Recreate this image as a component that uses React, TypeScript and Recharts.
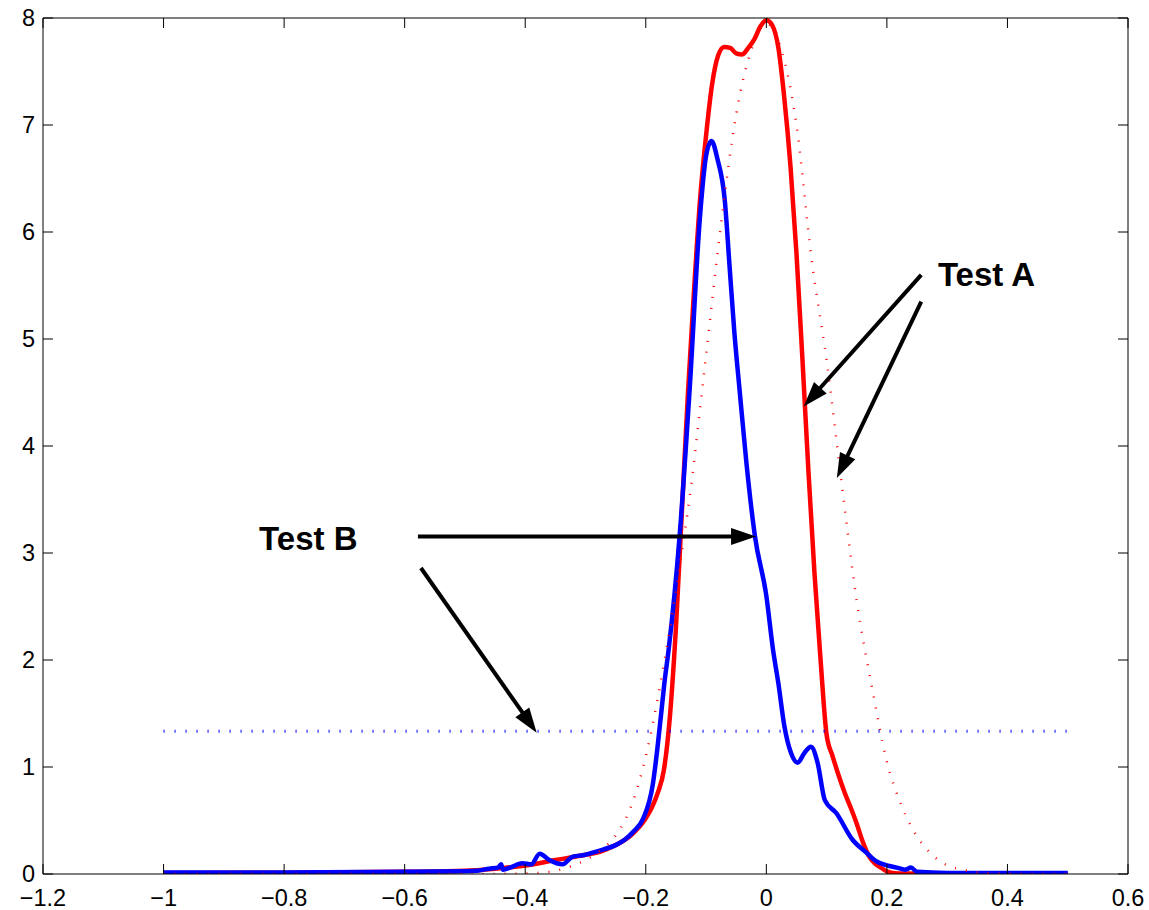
import React from "react";
import { LineChart, Line, XAxis, YAxis, ReferenceLine, ReferenceDot } from "recharts";

// axis ticks
const xTicks = [-1.2, -1, -0.8, -0.6, -0.4, -0.2, 0, 0.2, 0.4, 0.6];
const yTicks = [0, 1, 2, 3, 4, 5, 6, 7, 8];

// Test A, solid red
const redSolidX = [-1, -0.8, -0.6, -0.5, -0.45, -0.4, -0.35, -0.3, -0.275, -0.25, -0.225, -0.2, -0.19, -0.18, -0.17, -0.16, -0.15, -0.14, -0.13, -0.12, -0.11, -0.1, -0.09, -0.08, -0.07, -0.06, -0.05, -0.04, -0.03, -0.02, -0.01, 0, 0.01, 0.02, 0.03, 0.04, 0.05, 0.06, 0.07, 0.08, 0.09, 0.1, 0.11, 0.12, 0.13, 0.14, 0.15, 0.16, 0.17, 0.18, 0.19, 0.2, 0.21, 0.23, 0.3, 0.5];
const redSolidY = [0.01, 0.012, 0.02, 0.03, 0.05, 0.08, 0.13, 0.18, 0.21, 0.27, 0.36, 0.52, 0.62, 0.76, 0.97, 1.47, 2.3, 3.4, 4.5, 5.45, 6.3, 6.9, 7.38, 7.65, 7.73, 7.72, 7.67, 7.66, 7.72, 7.8, 7.92, 7.98, 7.93, 7.72, 7.24, 6.62, 5.8, 4.8, 3.75, 2.8, 2.0, 1.3, 1.1, 0.92, 0.76, 0.62, 0.47, 0.3, 0.17, 0.1, 0.06, 0.025, 0.01, 0.004, 0, 0];

// Test A, dotted red
const redDotX = [-1, -0.6, -0.5, -0.45, -0.4, -0.375, -0.35, -0.325, -0.3, -0.275, -0.25, -0.225, -0.2, -0.175, -0.15, -0.125, -0.1, -0.075, -0.05, -0.025, 0, 0.025, 0.05, 0.075, 0.1, 0.125, 0.15, 0.175, 0.2, 0.225, 0.25, 0.275, 0.3, 0.325, 0.35, 0.4, 0.45, 0.5];
const redDotY = [0, 0, 0, 0.001, 0.005, 0.012, 0.03, 0.07, 0.13, 0.22, 0.36, 0.62, 1.1, 1.8, 2.65, 3.62, 4.85, 6.08, 7.1, 7.7, 7.95, 7.7, 7.0, 5.75, 4.8, 3.65, 2.55, 1.75, 1.05, 0.63, 0.35, 0.18, 0.08, 0.04, 0.015, 0.002, 0, 0];

// Test B, solid blue
const blueSolidX = [-1, -0.8, -0.6, -0.5, -0.48, -0.46, -0.445, -0.44, -0.437, -0.425, -0.405, -0.39, -0.376, -0.36, -0.338, -0.322, -0.3, -0.288, -0.27, -0.25, -0.235, -0.22, -0.205, -0.188, -0.181, -0.175, -0.169, -0.162, -0.144, -0.127, -0.11, -0.1, -0.091, -0.081, -0.069, -0.061, -0.053, -0.044, -0.033, -0.019, 0, 0.011, 0.02, 0.03, 0.041, 0.052, 0.063, 0.074, 0.085, 0.097, 0.116, 0.143, 0.166, 0.182, 0.2, 0.216, 0.23, 0.24, 0.25, 0.3, 0.5];
const blueSolidY = [0.015, 0.015, 0.02, 0.025, 0.03, 0.05, 0.06, 0.09, 0.04, 0.06, 0.1, 0.09, 0.19, 0.13, 0.09, 0.16, 0.18, 0.2, 0.23, 0.27, 0.32, 0.4, 0.51, 0.85, 1.16, 1.47, 1.79, 2.1, 3.15, 4.55, 6.15, 6.71, 6.85, 6.68, 6.3, 5.68, 5.06, 4.5, 3.84, 3.16, 2.6, 2.1, 1.78, 1.38, 1.13, 1.04, 1.13, 1.19, 1.04, 0.69, 0.57, 0.32, 0.2, 0.12, 0.08, 0.06, 0.04, 0.06, 0.02, 0.01, 0.01];

// Test B, dotted blue (flat)
const blueDotX = [-1, 0.5];
const blueDotY = [1.333, 1.333];

// annotation arrows, data units
const arrows = [
  { x1: 0.257, y1: 5.6, x2: 0.062, y2: 4.37 },
  { x1: 0.257, y1: 5.35, x2: 0.117, y2: 3.7 },
  { x1: -0.578, y1: 3.155, x2: -0.017, y2: 3.155 },
  { x1: -0.573, y1: 2.86, x2: -0.381, y2: 1.32 },
];
const labels = [
  { text: "Test A", x: 0.2846, y: 5.6 },
  { text: "Test B", x: -0.8415, y: 3.132 },
];

const zip = (xs: number[], ys: number[]) => xs.map((x, i) => ({ x, y: ys[i] }));

const FONT = "'Liberation Sans', Arial, Helvetica, sans-serif";
const fmt = (v: number) => (v < 0 ? "\u2212" + String(-v) : String(v));

function BottomTick({ x, y, payload }: any) {
  return (
    <g>
      <line x1={x} y1={y} x2={x} y2={y - 10} stroke="#000" strokeWidth={1} />
      <text x={x} y={y + 24} textAnchor="middle" dominantBaseline="central" fontSize={23.5} fontFamily={FONT} fill="#000">
        {fmt(payload.value)}
      </text>
    </g>
  );
}

function TopTick({ x, y }: any) {
  return <line x1={x} y1={y} x2={x} y2={y + 10} stroke="#000" strokeWidth={1} />;
}

function LeftTick({ x, y, payload }: any) {
  return (
    <g>
      <line x1={x} y1={y} x2={x + 10} y2={y} stroke="#000" strokeWidth={1} />
      <text x={x - 8} y={y} textAnchor="end" dominantBaseline="central" fontSize={23.5} fontFamily={FONT} fill="#000">
        {fmt(payload.value)}
      </text>
    </g>
  );
}

function RightTick({ x, y }: any) {
  return <line x1={x} y1={y} x2={x - 10} y2={y} stroke="#000" strokeWidth={1} />;
}

function Arrow(props: any) {
  const { x1, y1, x2, y2 } = props;
  const dx = x2 - x1;
  const dy = y2 - y1;
  const len = Math.hypot(dx, dy) || 1;
  const ux = dx / len;
  const uy = dy / len;
  const hl = 25;
  const hw = 8.5;
  const bx = x2 - ux * hl;
  const by = y2 - uy * hl;
  const px = -uy;
  const py = ux;
  return (
    <g>
      <line x1={x1} y1={y1} x2={bx + ux * 2} y2={by + uy * 2} stroke="#000" strokeWidth={4} />
      <polygon
        points={`${x2},${y2} ${bx + px * hw},${by + py * hw} ${bx - px * hw},${by - py * hw}`}
        fill="#000"
      />
    </g>
  );
}

export default function App() {
  return (
    <div style={{ position: "absolute", left: 0, top: 0, width: 1149, height: 910, background: "#fff" }}>
      <LineChart width={1149} height={910} margin={{ top: 0, right: 0, bottom: 0, left: 0 }}>
        <XAxis
          type="number"
          dataKey="x"
          domain={[-1.2, 0.6]}
          ticks={xTicks}
          allowDataOverflow
          height={36}
          tickSize={0}
          tickMargin={0}
          tickLine={false}
          tick={<BottomTick />}
          axisLine={{ stroke: "#000", strokeWidth: 1 }}
          interval={0}
        />
        <XAxis
          xAxisId="top"
          orientation="top"
          type="number"
          dataKey="x"
          domain={[-1.2, 0.6]}
          ticks={xTicks}
          allowDataOverflow
          height={18}
          tickSize={0}
          tickMargin={0}
          tickLine={false}
          tick={<TopTick />}
          axisLine={{ stroke: "#000", strokeWidth: 1 }}
          interval={0}
        />
        <YAxis
          type="number"
          domain={[0, 8]}
          ticks={yTicks}
          allowDataOverflow
          width={43}
          tickSize={0}
          tickMargin={0}
          tickLine={false}
          tick={<LeftTick />}
          axisLine={{ stroke: "#000", strokeWidth: 1 }}
          interval={0}
        />
        <YAxis
          yAxisId="right"
          orientation="right"
          type="number"
          domain={[0, 8]}
          ticks={yTicks}
          allowDataOverflow
          width={21}
          tickSize={0}
          tickMargin={0}
          tickLine={false}
          tick={<RightTick />}
          axisLine={{ stroke: "#000", strokeWidth: 1 }}
          interval={0}
        />
        <Line
          data={zip(redSolidX, redSolidY)}
          dataKey="y"
          type="monotone"
          stroke="#ff0000"
          strokeWidth={4.5}
          strokeLinejoin="round"
          dot={false}
          activeDot={false}
          isAnimationActive={false}
        />
        <Line
          data={zip(blueSolidX, blueSolidY)}
          dataKey="y"
          type="monotone"
          stroke="#0000ff"
          strokeWidth={4.5}
          strokeLinejoin="round"
          dot={false}
          activeDot={false}
          isAnimationActive={false}
        />
        <Line
          data={zip(redDotX, redDotY)}
          dataKey="y"
          type="monotone"
          stroke="#ff0000"
          strokeWidth={2.5}
          strokeDasharray="1 10"
          dot={false}
          activeDot={false}
          isAnimationActive={false}
        />
        <Line
          data={zip(blueDotX, blueDotY)}
          dataKey="y"
          type="linear"
          stroke="#0000ff"
          strokeWidth={3}
          strokeDasharray="1 10"
          dot={false}
          activeDot={false}
          isAnimationActive={false}
        />
        {arrows.map((a, i) => (
          <ReferenceLine
            key={"arrow" + i}
            segment={[
              { x: a.x1, y: a.y1 },
              { x: a.x2, y: a.y2 },
            ]}
            shape={(p: any) => <Arrow {...p} />}
          />
        ))}
        {labels.map((l) => (
          <ReferenceDot
            key={l.text}
            x={l.x}
            y={l.y}
            r={0}
            shape={(p: any) => (
              <text
                x={p.cx}
                y={p.cy}
                textAnchor="start"
                dominantBaseline="central"
                fontSize={33}
                fontWeight="bold"
                fontFamily={FONT}
                fill="#000"
              >
                {l.text}
              </text>
            )}
          />
        ))}
      </LineChart>
    </div>
  );
}
